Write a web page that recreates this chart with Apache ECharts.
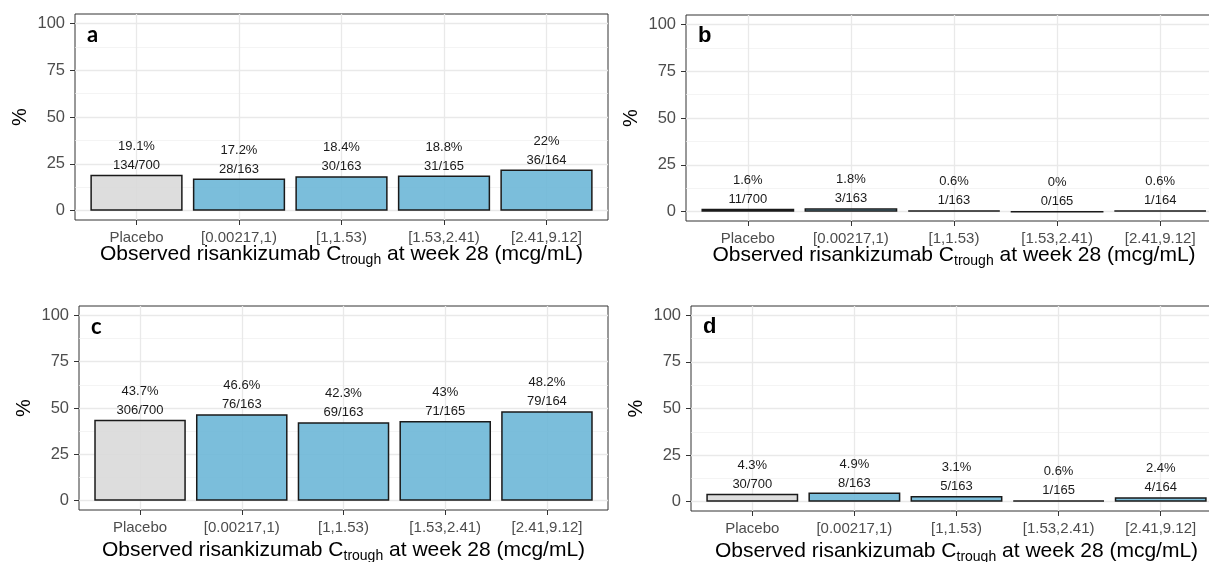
<!DOCTYPE html>
<html>
<head>
<meta charset="utf-8">
<script src="https://cdn.jsdelivr.net/npm/echarts@6/dist/echarts.min.js"></script>
<style>
  html, body { margin: 0; padding: 0; background: #fff; }
  #chart { width: 1209px; height: 562px; }
</style>
</head>
<body>
<div id="chart"></div>
<script>
// 数据
var categories = ["Placebo", "[0.00217,1)", "[1,1.53)", "[1.53,2.41)", "[2.41,9.12]"];
var yTicks = [0, 25, 50, 75, 100];
var yMinorTicks = [12.5, 37.5, 62.5, 87.5];

var pctA = [19.1, 17.2, 18.4, 18.8, 22];
var countA = ["134/700", "28/163", "30/163", "31/165", "36/164"];
var pctB = [1.6, 1.8, 0.6, 0, 0.6];
var countB = ["11/700", "3/163", "1/163", "0/165", "1/164"];
var pctC = [43.7, 46.6, 42.3, 43, 48.2];
var countC = ["306/700", "76/163", "69/163", "71/165", "79/164"];
var pctD = [4.3, 4.9, 3.1, 0.6, 2.4];
var countD = ["30/700", "8/163", "5/163", "1/165", "4/164"];

(function() {
  var myChart = echarts.init(document.getElementById("chart"));
  var font = "Liberation Sans, Arial, sans-serif";
  var catPos = categories.map(function(c, i) { return i + 1; });

  // 四个面板的位置
  var panels = [
    { letter: "a", pct: pctA, n: countA, left: 75, top: 14, width: 533, height: 206, nameGap: 21, letterFont: "Lato" },
    { letter: "b", pct: pctB, n: countB, left: 686, top: 15, width: 536, height: 206, nameGap: 21, letterFont: font },
    { letter: "c", pct: pctC, n: countC, left: 79, top: 306, width: 529, height: 204, nameGap: 27.5, letterFont: "Lato" },
    { letter: "d", pct: pctD, n: countD, left: 691, top: 306, width: 531, height: 205, nameGap: 27.5, letterFont: font }
  ];

  var grid = [], xAxis = [], yAxis = [], series = [], title = [];

  panels.forEach(function(p, i) {
    grid.push({
      left: p.left, top: p.top, width: p.width, height: p.height,
      outerBoundsMode: "none",
      containLabel: false,
      show: true, borderColor: "#333333", borderWidth: 1, backgroundColor: "transparent"
    });

    title.push({
      text: p.letter,
      left: p.left + 12,
      top: p.top + 10,
      padding: 0,
      textStyle: { fontFamily: p.letterFont, fontWeight: "bold", fontSize: 22, color: "#000" }
    });

    xAxis.push({
      type: "value",
      gridIndex: i,
      min: 0.4,
      max: 5.6,
      axisLine: { show: false, onZero: false },
      axisTick: { show: true, length: 5, customValues: catPos, lineStyle: { color: "#333333" } },
      axisLabel: {
        customValues: catPos,
        margin: 10,
        fontFamily: font,
        fontSize: 15,
        color: "#4d4d4d",
        formatter: function(v) { return categories[Math.round(v) - 1] || ""; }
      },
      splitLine: { show: true, lineStyle: { color: "#e9e9e9", width: 1.3 } },
      name: "{m|Observed risankizumab C}{s|trough}{m| at week 28 (mcg/mL)}",
      nameLocation: "middle",
      nameGap: p.nameGap,
      nameMoveOverlap: false,
      nameTextStyle: {
        rich: {
          m: { fontFamily: font, fontSize: 21, color: "#000", lineHeight: 26 },
          s: { fontFamily: font, fontSize: 14, color: "#000", lineHeight: 13, verticalAlign: "bottom" }
        }
      }
    });

    // 主刻度
    yAxis.push({
      type: "value",
      gridIndex: i,
      min: -5,
      max: 105,
      axisLine: { show: false, onZero: false },
      axisTick: { show: true, length: 5, customValues: yTicks, lineStyle: { color: "#333333" } },
      axisLabel: { customValues: yTicks, margin: 10, fontFamily: font, fontSize: 16.5, color: "#4d4d4d" },
      splitLine: { show: true, lineStyle: { color: "#e9e9e9", width: 1.3 } },
      name: "%",
      nameLocation: "middle",
      nameRotate: 90,
      nameGap: 45,
      nameMoveOverlap: false,
      nameTextStyle: { fontFamily: font, fontSize: 20, color: "#000" }
    });
    // 次网格线
    yAxis.push({
      type: "value",
      gridIndex: i,
      min: -5,
      max: 105,
      axisLine: { show: false, onZero: false },
      axisTick: { show: false, customValues: yMinorTicks },
      axisLabel: { show: false, customValues: yMinorTicks },
      splitLine: { show: true, lineStyle: { color: "#efefef", width: 0.7 } }
    });

    series.push({
      type: "bar",
      xAxisIndex: i,
      yAxisIndex: i * 2,
      barWidth: "90%",
      data: p.pct.map(function(v, k) {
        return {
          value: [k + 1, v],
          itemStyle: { color: k === 0 ? "rgba(217,217,217,0.9)" : "rgba(109,183,215,0.9)" }
        };
      }),
      itemStyle: { borderColor: "#1a1a1a", borderWidth: 1.5 },
      label: {
        show: true,
        position: "top",
        distance: 0,
        fontFamily: font,
        fontSize: 13,
        lineHeight: 19,
        color: "#1a1a1a",
        formatter: function(params) {
          return p.pct[params.dataIndex] + "%\n" + p.n[params.dataIndex];
        }
      }
    });
  });

  var option = {
    animation: false,
    backgroundColor: "#fff",
    title: title,
    grid: grid,
    xAxis: xAxis,
    yAxis: yAxis,
    series: series
  };

  myChart.setOption(option);
  window.addEventListener("resize", function() {
    myChart.resize();
  });
})();
</script>
</body>
</html>
